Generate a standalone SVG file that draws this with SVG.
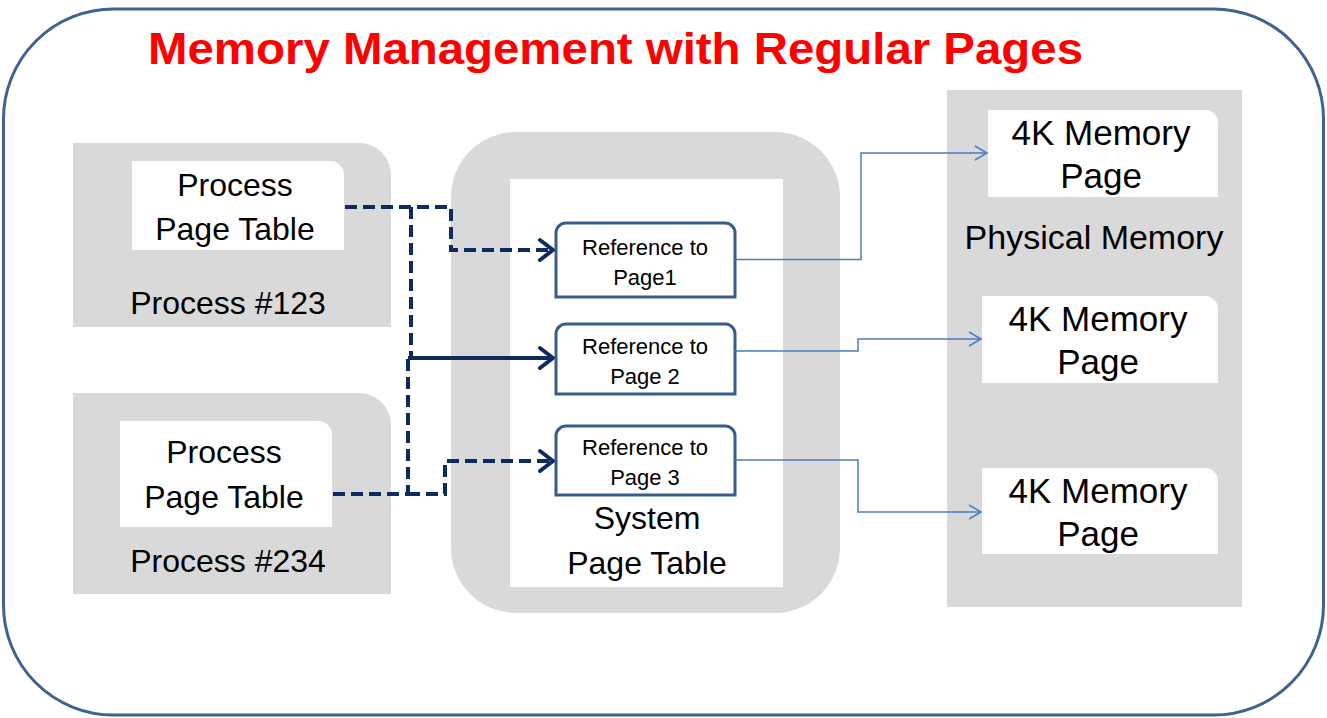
<svg xmlns="http://www.w3.org/2000/svg" width="1327" height="718" viewBox="0 0 1327 718">
<style>
.lbl{font-family:"Liberation Sans",Arial,sans-serif;font-size:32px;fill:#000;text-anchor:middle}
.mem{font-size:35px}
.phy{font-size:34px}
.ref{font-family:"Liberation Sans",Arial,sans-serif;font-size:22px;fill:#000;text-anchor:middle}
.gray{fill:#d9d9d9}
.white{fill:#fff}
.refbox{fill:#fff;stroke:#385d8a;stroke-width:3}
.nav{fill:none;stroke:#0f2a5f;stroke-width:4}
.dash{stroke-dasharray:12 6}
.blue{fill:none;stroke:#4a7ebb;stroke-width:1.5}
</style>
<defs>
<marker id="an" markerUnits="userSpaceOnUse" markerWidth="24" markerHeight="28" viewBox="-3 -14 20 28" refX="13" refY="0" orient="auto">
<path d="M0,-10 L13,0 L0,10" fill="none" stroke="#0f2a5f" stroke-width="4" stroke-linecap="round" stroke-linejoin="round"/>
</marker>
<marker id="ab" markerUnits="userSpaceOnUse" markerWidth="18" markerHeight="20" viewBox="-2 -10 16 20" refX="12" refY="0" orient="auto">
<path d="M0,-7 L12,0 L0,7" fill="none" stroke="#4a7ebb" stroke-width="1.5"/>
</marker>
</defs>
<rect width="1327" height="718" fill="#fff"/>
<g id="frame">
<rect x="3.5" y="9" width="1320" height="706" rx="110" ry="110" fill="#fff" stroke="#3f6290" stroke-width="3"/>
</g>
<g id="title">
<text x="148" y="64" textLength="935" lengthAdjust="spacingAndGlyphs" style="font-family:'Liberation Sans',Arial,sans-serif;font-weight:bold;font-size:45px;fill:#ff0000">Memory Management with Regular Pages</text>
</g>
<g id="process123">
<path class="gray" d="M73,143 H359 A32,32 0 0 1 391,175 V327 H73 Z"/>
<path class="white" d="M132,161 H330 A14,14 0 0 1 344,175 V250 H132 Z"/>
<text class="lbl" x="235" y="196">Process</text>
<text class="lbl" x="235" y="240">Page Table</text>
<text class="lbl" x="228" y="314">Process #123</text>
</g>
<g id="process234">
<path class="gray" d="M73,393 H359 A32,32 0 0 1 391,425 V594 H73 Z"/>
<path class="white" d="M120,421 H318 A14,14 0 0 1 332,435 V527 H120 Z"/>
<text class="lbl" x="224" y="463">Process</text>
<text class="lbl" x="224" y="508">Page Table</text>
<text class="lbl" x="228" y="572">Process #234</text>
</g>
<g id="system">
<rect class="gray" x="451" y="132" width="389" height="481" rx="65" ry="65"/>
<rect class="white" x="510" y="179" width="273" height="408"/>
<text class="lbl" x="647" y="529">System</text>
<text class="lbl" x="647" y="574">Page Table</text>
</g>
<g id="ref1">
<path class="refbox" d="M556,297 V233 A10,10 0 0 1 566,223 H725 A10,10 0 0 1 735,233 V297 Z"/>
<text class="ref" x="645" y="255">Reference to</text>
<text class="ref" x="645" y="285">Page1</text>
</g>
<g id="ref2">
<path class="refbox" d="M556,394 V334 A10,10 0 0 1 566,324 H725 A10,10 0 0 1 735,334 V394 Z"/>
<text class="ref" x="645" y="354">Reference to</text>
<text class="ref" x="645" y="384">Page 2</text>
</g>
<g id="ref3">
<path class="refbox" d="M556,495 V436 A10,10 0 0 1 566,426 H725 A10,10 0 0 1 735,436 V495 Z"/>
<text class="ref" x="645" y="455">Reference to</text>
<text class="ref" x="645" y="485">Page 3</text>
</g>
<g id="physical">
<rect class="gray" x="947" y="90" width="295" height="517"/>
<text class="lbl phy" x="1094" y="249">Physical Memory</text>
</g>
<g id="mem1">
<path class="white" d="M988,110 H1205 A13,13 0 0 1 1218,123 V197 H988 Z"/>
<text class="lbl mem" x="1101" y="145">4K Memory</text>
<text class="lbl mem" x="1101" y="188">Page</text>
</g>
<g id="mem2">
<path class="white" d="M982,296 H1205 A13,13 0 0 1 1218,309 V383 H982 Z"/>
<text class="lbl mem" x="1098" y="331">4K Memory</text>
<text class="lbl mem" x="1098" y="374">Page</text>
</g>
<g id="mem3">
<path class="white" d="M982,468 H1205 A13,13 0 0 1 1218,481 V554 H982 Z"/>
<text class="lbl mem" x="1098" y="503">4K Memory</text>
<text class="lbl mem" x="1098" y="546">Page</text>
</g>
<g id="connectors">
<path class="nav dash" d="M345,207 H451 V250 H553" marker-end="url(#an)"/>
<path class="nav dash" d="M411,207 V358"/>
<path class="nav" d="M408,358 H553" marker-end="url(#an)"/>
<path class="nav dash" d="M333,494 H408 V358"/>
<path class="nav dash" d="M408,494 H445 V461 H553" marker-end="url(#an)"/>
<path class="blue" d="M735,259.5 H861 V153 H987" marker-end="url(#ab)"/>
<path class="blue" d="M735,351 H858 V339 H981" marker-end="url(#ab)"/>
<path class="blue" d="M735,460 H858 V512 H981" marker-end="url(#ab)"/>
</g>
</svg>
